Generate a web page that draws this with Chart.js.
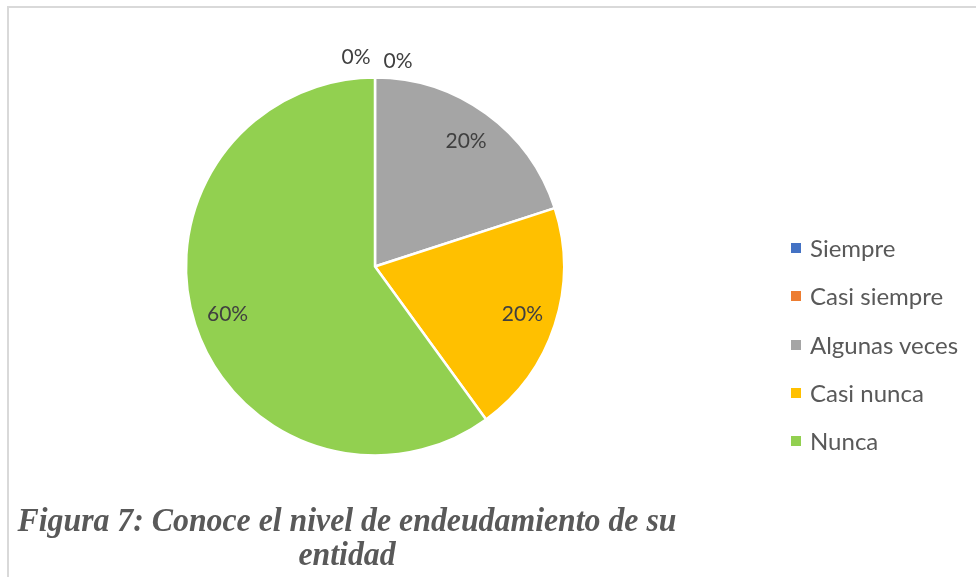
<!DOCTYPE html>
<html>
<head>
<meta charset="utf-8">
<script src="https://cdn.jsdelivr.net/npm/chart.js@4.4.1/dist/chart.umd.min.js"></script>
<style>
  html, body { margin: 0; padding: 0; background: #fff; }
  body { width: 976px; height: 577px; position: relative; overflow: hidden; }
  .frame {
    position: absolute; left: 7px; top: 6px; width: 1000px; height: 620px;
    border-top: 2px solid #d9d9d9; border-left: 2px solid #d9d9d9;
  }
  #pie { position: absolute; left: 0; top: 0; }
  .legend { position: absolute; left: 791px; top: 0; font-family: Lato, sans-serif; font-size: 24px; color: #595959; }
  .legend div { position: absolute; white-space: nowrap; height: 24px; line-height: 24px; }
  .legend span.box { position: absolute; left: 0; top: 7px; width: 10px; height: 10px; }
  .legend span.txt { position: absolute; left: 19px; top: 0; }
  .caption {
    position: absolute; left: 0; width: 694px; text-align: center;
    font-family: "Liberation Serif", "Times New Roman", serif;
    font-weight: bold; font-style: italic; font-size: 33px; line-height: 33px;
    color: #595959; transform-origin: 347px 0;
  }
  .caption span { white-space: nowrap; }
</style>
</head>
<body>
<div class="frame"></div>
<canvas id="pie" width="976" height="577"></canvas>
<div class="legend" id="legend"></div>
<div class="caption" id="cap1" style="top:504px"><span>Figura 7: Conoce el nivel de endeudamiento de su</span></div>
<div class="caption" id="cap2" style="top:538px"><span>entidad</span></div>

<script>
// data
const categories = ["Siempre", "Casi siempre", "Algunas veces", "Casi nunca", "Nunca"];
const shares = [0, 0, 20, 20, 60];
const sliceColors = ["#4472C4", "#ED7D31", "#A5A5A5", "#FFC000", "#92D050"];

// legend (html, rows like the excel one)
const legendBox = document.getElementById("legend");
categories.forEach(function (name, i) {
  const row = document.createElement("div");
  row.style.top = (236 + i * 48.25) + "px";
  row.innerHTML = '<span class="box" style="background:' + sliceColors[i] + '"></span><span class="txt">' + name + "</span>";
  legendBox.appendChild(row);
});

// squeeze the caption like in the picture
const line1 = document.querySelector("#cap1 span");
const sx = 659 / line1.getBoundingClientRect().width;
document.getElementById("cap1").style.transform = "scaleX(" + sx + ")";
document.getElementById("cap2").style.transform = "scaleX(" + sx + ")";

// percent labels on the slices
const zeroShift = [[-19, 2], [23, 6]];
const pieLabels = {
  id: "pieLabels",
  afterDatasetsDraw(chart) {
    const ctx = chart.ctx;
    const meta = chart.getDatasetMeta(0);
    const total = shares.reduce((a, b) => a + b, 0);
    let zeroCount = 0;
    ctx.save();
    ctx.font = "21px Lato, sans-serif";
    ctx.fillStyle = "#404040";
    ctx.textAlign = "center";
    ctx.textBaseline = "middle";
    meta.data.forEach(function (arc, i) {
      const p = arc.getProps(["x", "y", "startAngle", "endAngle", "outerRadius"], true);
      const mid = (p.startAngle + p.endAngle) / 2;
      const pct = Math.round(shares[i] / total * 100) + "%";
      let x, y;
      if (shares[i] === 0) {
        const r = p.outerRadius + 22;
        const s = zeroShift[zeroCount++] || [0, 0];
        x = p.x + Math.cos(mid) * r + s[0];
        y = p.y + Math.sin(mid) * r + s[1];
      } else {
        const r = p.outerRadius * 0.82;
        x = p.x + Math.cos(mid) * r;
        y = p.y + Math.sin(mid) * r;
      }
      ctx.fillText(pct, x, y);
    });
    ctx.restore();
  }
};

new Chart(document.getElementById("pie").getContext("2d"), {
  type: "pie",
  data: {
    labels: categories,
    datasets: [
      {
        data: shares,
        backgroundColor: sliceColors,
        borderColor: "#ffffff",
        borderWidth: 2.5,
      },
    ],
  },
  options: {
    responsive: false,
    animation: false,
    radius: 189,
    layout: { padding: { left: 0, right: 226, top: 0, bottom: 44 } },
    plugins: {
      legend: { display: false },
      tooltip: { enabled: false },
      title: { display: false },
    },
  },
  plugins: [pieLabels],
});
</script>
</body>
</html>
